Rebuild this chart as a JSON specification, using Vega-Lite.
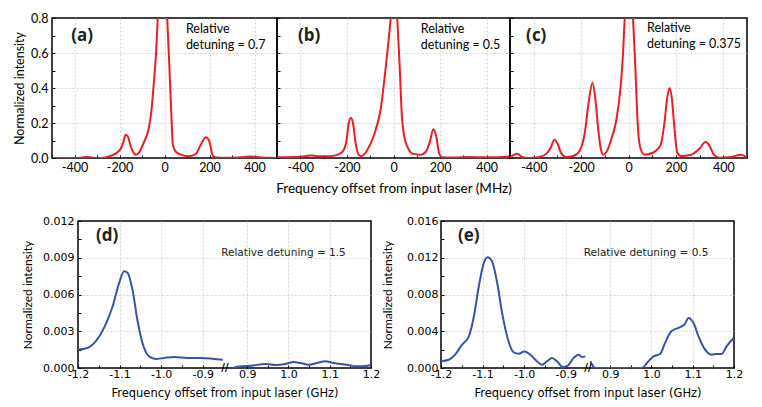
{
  "$schema": "https://vega.github.io/schema/vega-lite/v6.json",
  "padding": {"left": 12, "top": 11, "right": 0, "bottom": 0},
  "datasets": {
    "a": [
      {"f": -500, "v": 0}, {"f": -400, "v": 0}, {"f": -370, "v": 0.002}, {"f": -346, "v": 0.006}, {"f": -320, "v": 0.002},
      {"f": -294, "v": 0}, {"f": -264, "v": 0.003}, {"f": -234, "v": 0.015}, {"f": -212, "v": 0.03}, {"f": -193, "v": 0.057},
      {"f": -182, "v": 0.095}, {"f": -173, "v": 0.133}, {"f": -163, "v": 0.124}, {"f": -152, "v": 0.076}, {"f": -137, "v": 0.029},
      {"f": -127, "v": 0.019}, {"f": -112, "v": 0.034}, {"f": -93, "v": 0.086}, {"f": -70, "v": 0.17}, {"f": -58, "v": 0.27},
      {"f": -48, "v": 0.42}, {"f": -37, "v": 0.61}, {"f": -30, "v": 0.8}, {"f": -20, "v": 0.95}, {"f": -5, "v": 1.0},
      {"f": 5, "v": 0.95}, {"f": 12, "v": 0.8}, {"f": 22, "v": 0.51}, {"f": 31, "v": 0.23}, {"f": 37, "v": 0.076},
      {"f": 49, "v": 0.038}, {"f": 72, "v": 0.019}, {"f": 109, "v": 0.01}, {"f": 139, "v": 0.023}, {"f": 161, "v": 0.076},
      {"f": 184, "v": 0.118}, {"f": 199, "v": 0.095}, {"f": 213, "v": 0.019}, {"f": 225, "v": 0.004}, {"f": 260, "v": 0.001},
      {"f": 303, "v": 0.002}, {"f": 340, "v": 0.004}, {"f": 378, "v": 0.008}, {"f": 422, "v": 0.004}, {"f": 460, "v": 0.001},
      {"f": 500, "v": 0}
    ],
    "b": [
      {"f": -500, "v": 0.004}, {"f": -421, "v": 0.006}, {"f": -378, "v": 0.01}, {"f": -352, "v": 0.015}, {"f": -328, "v": 0.01},
      {"f": -285, "v": 0.01}, {"f": -249, "v": 0.015}, {"f": -220, "v": 0.034}, {"f": -203, "v": 0.09}, {"f": -192, "v": 0.2},
      {"f": -183, "v": 0.23}, {"f": -174, "v": 0.2}, {"f": -163, "v": 0.09}, {"f": -148, "v": 0.015}, {"f": -137, "v": 0.011},
      {"f": -113, "v": 0.044}, {"f": -84, "v": 0.13}, {"f": -55, "v": 0.28}, {"f": -34, "v": 0.51}, {"f": -19, "v": 0.7},
      {"f": -12, "v": 0.8}, {"f": -4, "v": 0.95}, {"f": 2, "v": 1.0}, {"f": 10, "v": 0.95}, {"f": 16, "v": 0.8},
      {"f": 27, "v": 0.51}, {"f": 35, "v": 0.26}, {"f": 45, "v": 0.13}, {"f": 60, "v": 0.063}, {"f": 81, "v": 0.025},
      {"f": 117, "v": 0.019}, {"f": 138, "v": 0.034}, {"f": 156, "v": 0.092}, {"f": 171, "v": 0.165}, {"f": 184, "v": 0.12},
      {"f": 196, "v": 0.025}, {"f": 210, "v": 0.004}, {"f": 260, "v": 0.003}, {"f": 325, "v": 0.006}, {"f": 382, "v": 0.004},
      {"f": 430, "v": 0.004}, {"f": 468, "v": 0.006}, {"f": 500, "v": 0.01}
    ],
    "c": [
      {"f": -500, "v": 0.004}, {"f": -469, "v": 0.025}, {"f": -451, "v": 0.008}, {"f": -423, "v": 0}, {"f": -381, "v": 0.004},
      {"f": -346, "v": 0.025}, {"f": -327, "v": 0.063}, {"f": -313, "v": 0.105}, {"f": -299, "v": 0.082}, {"f": -283, "v": 0.025},
      {"f": -262, "v": 0.006}, {"f": -234, "v": 0.011}, {"f": -205, "v": 0.044}, {"f": -184, "v": 0.148}, {"f": -168, "v": 0.32},
      {"f": -152, "v": 0.43}, {"f": -140, "v": 0.34}, {"f": -128, "v": 0.167}, {"f": -117, "v": 0.053}, {"f": -107, "v": 0.019},
      {"f": -93, "v": 0.034}, {"f": -72, "v": 0.11}, {"f": -51, "v": 0.22}, {"f": -33, "v": 0.41}, {"f": -23, "v": 0.6},
      {"f": -16, "v": 0.8}, {"f": -8, "v": 0.95}, {"f": 2, "v": 1.0}, {"f": 12, "v": 0.95}, {"f": 19, "v": 0.8},
      {"f": 29, "v": 0.51}, {"f": 40, "v": 0.167}, {"f": 51, "v": 0.053}, {"f": 68, "v": 0.019}, {"f": 103, "v": 0.03},
      {"f": 135, "v": 0.072}, {"f": 152, "v": 0.205}, {"f": 163, "v": 0.34}, {"f": 173, "v": 0.4}, {"f": 183, "v": 0.34},
      {"f": 194, "v": 0.167}, {"f": 205, "v": 0.034}, {"f": 222, "v": 0.011}, {"f": 264, "v": 0.019}, {"f": 299, "v": 0.053},
      {"f": 325, "v": 0.091}, {"f": 341, "v": 0.072}, {"f": 360, "v": 0.019}, {"f": 383, "v": 0.002}, {"f": 433, "v": 0.006},
      {"f": 475, "v": 0.019}, {"f": 500, "v": 0.002}
    ],
    "d": [
      {"s": "L", "f": -1.2, "v": 0.0015}, {"s": "L", "f": -1.178, "v": 0.00163}, {"s": "L", "f": -1.157, "v": 0.0022},
      {"s": "L", "f": -1.137, "v": 0.0033}, {"s": "L", "f": -1.117, "v": 0.005}, {"s": "L", "f": -1.101, "v": 0.00695},
      {"s": "L", "f": -1.089, "v": 0.0079}, {"s": "L", "f": -1.081, "v": 0.00777}, {"s": "L", "f": -1.069, "v": 0.0064},
      {"s": "L", "f": -1.057, "v": 0.0039}, {"s": "L", "f": -1.045, "v": 0.00204}, {"s": "L", "f": -1.029, "v": 0.00095},
      {"s": "L", "f": -1.013, "v": 0.00074}, {"s": "L", "f": -0.993, "v": 0.00082}, {"s": "L", "f": -0.969, "v": 0.0009},
      {"s": "L", "f": -0.937, "v": 0.00082}, {"s": "L", "f": -0.904, "v": 0.00082}, {"s": "L", "f": -0.872, "v": 0.00074},
      {"s": "L", "f": -0.852, "v": 0.00068},
      {"s": "R", "f": 0.865, "v": 0}, {"s": "R", "f": 0.885, "v": 0.00014}, {"s": "R", "f": 0.909, "v": 0.00019},
      {"s": "R", "f": 0.945, "v": 0.00033}, {"s": "R", "f": 0.969, "v": 0.00025}, {"s": "R", "f": 0.993, "v": 0.00033},
      {"s": "R", "f": 1.013, "v": 0.00049}, {"s": "R", "f": 1.029, "v": 0.00041}, {"s": "R", "f": 1.049, "v": 0.00027},
      {"s": "R", "f": 1.069, "v": 0.00041}, {"s": "R", "f": 1.089, "v": 0.00055}, {"s": "R", "f": 1.109, "v": 0.00041},
      {"s": "R", "f": 1.141, "v": 0.00027}, {"s": "R", "f": 1.165, "v": 0.00014}, {"s": "R", "f": 1.181, "v": 0.00014},
      {"s": "R", "f": 1.2, "v": 0.00025}
    ],
    "e": [
      {"s": "L", "f": -1.2, "v": 0.00073}, {"s": "L", "f": -1.181, "v": 0.0009}, {"s": "L", "f": -1.166, "v": 0.00145},
      {"s": "L", "f": -1.15, "v": 0.0025}, {"s": "L", "f": -1.133, "v": 0.00345}, {"s": "L", "f": -1.121, "v": 0.0056},
      {"s": "L", "f": -1.109, "v": 0.0089}, {"s": "L", "f": -1.097, "v": 0.01145}, {"s": "L", "f": -1.088, "v": 0.01206},
      {"s": "L", "f": -1.077, "v": 0.0116}, {"s": "L", "f": -1.065, "v": 0.0093}, {"s": "L", "f": -1.053, "v": 0.006},
      {"s": "L", "f": -1.041, "v": 0.00345}, {"s": "L", "f": -1.025, "v": 0.0017}, {"s": "L", "f": -1.013, "v": 0.00156},
      {"s": "L", "f": -1.0, "v": 0.0018}, {"s": "L", "f": -0.985, "v": 0.00145}, {"s": "L", "f": -0.973, "v": 0.0009},
      {"s": "L", "f": -0.957, "v": 0.00036}, {"s": "L", "f": -0.945, "v": 0.00073}, {"s": "L", "f": -0.933, "v": 0.0011},
      {"s": "L", "f": -0.921, "v": 0.00073}, {"s": "L", "f": -0.907, "v": 0.0001}, {"s": "L", "f": -0.895, "v": 0.00025},
      {"s": "L", "f": -0.881, "v": 0.0011}, {"s": "L", "f": -0.869, "v": 0.00145}, {"s": "L", "f": -0.861, "v": 0.0012},
      {"s": "L", "f": -0.853, "v": 0.00127},
      {"s": "R", "f": 0.852, "v": 0.00073}, {"s": "R", "f": 0.864, "v": 0}, {"s": "R", "f": 0.977, "v": 0},
      {"s": "R", "f": 0.989, "v": 0.00055}, {"s": "R", "f": 1.005, "v": 0.00127}, {"s": "R", "f": 1.021, "v": 0.00153},
      {"s": "R", "f": 1.033, "v": 0.00273}, {"s": "R", "f": 1.048, "v": 0.004}, {"s": "R", "f": 1.065, "v": 0.00436},
      {"s": "R", "f": 1.08, "v": 0.00473}, {"s": "R", "f": 1.09, "v": 0.00545}, {"s": "R", "f": 1.102, "v": 0.0049},
      {"s": "R", "f": 1.114, "v": 0.00345}, {"s": "R", "f": 1.13, "v": 0.002}, {"s": "R", "f": 1.146, "v": 0.00145},
      {"s": "R", "f": 1.158, "v": 0.00153}, {"s": "R", "f": 1.17, "v": 0.00153}, {"s": "R", "f": 1.182, "v": 0.00236},
      {"s": "R", "f": 1.197, "v": 0.00316}, {"s": "R", "f": 1.2, "v": 0.0033}
    ]
  },
  "vconcat": [
    {
      "spacing": 0,
      "bounds": "flush",
      "hconcat": [
        {
          "width": 225, "height": 140,
          "layer": [
            {
              "data": {"name": "a"},
              "mark": {"type": "line", "color": "#ed1c24", "strokeWidth": 2, "clip": true, "interpolate": "monotone"},
              "encoding": {
                "x": {"field": "f", "type": "quantitative", "scale": {"domain": [-500, 500], "nice": false},
                  "axis": {"values": [-500, -400, -300, -200, -100, 0, 100, 200, 300, 400, 500], "tickCount": 100, "labelExpr": "round(datum.value) % 200 != 0 || abs(datum.value) == 500 ? '' : datum.value < 0 ? '-' + abs(datum.value) : '' + datum.value", "gridOpacity": {"condition": {"test": "round(datum.value) % 200 != 0 || abs(datum.value) == 500", "value": 0}, "value": 1}, "title": null, "labelFont": "Lato", "labelFontSize": 12.5, "labelPadding": 6.5, "labelFlush": false, "labelOverlap": false}},
                "y": {"field": "v", "type": "quantitative", "scale": {"domain": [0, 0.8], "nice": false},
                  "axis": {"values": [0, 0.1, 0.2, 0.3, 0.4, 0.5, 0.6, 0.7, 0.8], "tickCount": 100, "labelExpr": "round(datum.value * 10) % 2 != 0 ? '' : format(datum.value, '.1f')", "gridOpacity": {"condition": {"test": "round(datum.value * 10) % 2 != 0 || datum.value == 0 || datum.value == 0.8", "value": 0}, "value": 1}, "title": "Normalized intensity", "titleFont": "Lato", "titleFontSize": 12.5, "labelFont": "Lato", "labelFontSize": 12.5, "labelPadding": 7, "titlePadding": 4, "labelOverlap": false}}
              }
            },
            {
              "data": {"values": [{}]},
              "mark": {"type": "text", "text": "(a)", "font": "Open Sans", "fontSize": 17, "fontWeight": "bold", "align": "left", "baseline": "middle", "color": "#222"},
              "encoding": {"x": {"datum": -415}, "y": {"datum": 0.7}}
            },
            {
              "data": {"values": [{}]},
              "mark": {"type": "text", "text": ["Relative", "detuning = 0.7"], "font": "Lato", "fontSize": 12.5, "align": "left", "baseline": "top", "lineHeight": 16, "color": "#000"},
              "encoding": {"x": {"datum": 95}, "y": {"datum": 0.77}}
            }
          ]
        },
        {
          "width": 233, "height": 140,
          "layer": [
            {
              "data": {"name": "b"},
              "mark": {"type": "line", "color": "#ed1c24", "strokeWidth": 2, "clip": true, "interpolate": "monotone"},
              "encoding": {
                "x": {"field": "f", "type": "quantitative", "scale": {"domain": [-500, 500], "nice": false},
                  "axis": {"values": [-500, -400, -300, -200, -100, 0, 100, 200, 300, 400, 500], "tickCount": 100, "labelExpr": "round(datum.value) % 200 != 0 || abs(datum.value) == 500 ? '' : datum.value < 0 ? '-' + abs(datum.value) : '' + datum.value", "gridOpacity": {"condition": {"test": "round(datum.value) % 200 != 0 || abs(datum.value) == 500", "value": 0}, "value": 1}, "title": "Frequency offset from input laser (MHz)", "titleFont": "Lato", "titleFontSize": 13.5, "titlePadding": 7, "labelFont": "Lato", "labelFontSize": 12.5, "labelPadding": 6.5, "labelFlush": false, "labelOverlap": false}},
                "y": {"field": "v", "type": "quantitative", "scale": {"domain": [0, 0.8], "nice": false},
                  "axis": {"values": [0, 0.1, 0.2, 0.3, 0.4, 0.5, 0.6, 0.7, 0.8], "tickCount": 100, "labels": false, "title": null, "gridOpacity": {"condition": {"test": "round(datum.value * 10) % 2 != 0 || datum.value == 0 || datum.value == 0.8", "value": 0}, "value": 1}}}
              }
            },
            {
              "data": {"values": [{}]},
              "mark": {"type": "text", "text": "(b)", "font": "Open Sans", "fontSize": 17, "fontWeight": "bold", "align": "left", "baseline": "middle", "color": "#222"},
              "encoding": {"x": {"datum": -410}, "y": {"datum": 0.7}}
            },
            {
              "data": {"values": [{}]},
              "mark": {"type": "text", "text": ["Relative", "detuning = 0.5"], "font": "Lato", "fontSize": 12.5, "align": "left", "baseline": "top", "lineHeight": 16, "color": "#000"},
              "encoding": {"x": {"datum": 117}, "y": {"datum": 0.77}}
            }
          ]
        },
        {
          "width": 237, "height": 140,
          "layer": [
            {
              "data": {"name": "c"},
              "mark": {"type": "line", "color": "#ed1c24", "strokeWidth": 2, "clip": true, "interpolate": "monotone"},
              "encoding": {
                "x": {"field": "f", "type": "quantitative", "scale": {"domain": [-500, 500], "nice": false},
                  "axis": {"values": [-500, -400, -300, -200, -100, 0, 100, 200, 300, 400, 500], "tickCount": 100, "labelExpr": "round(datum.value) % 200 != 0 || abs(datum.value) == 500 ? '' : datum.value < 0 ? '-' + abs(datum.value) : '' + datum.value", "gridOpacity": {"condition": {"test": "round(datum.value) % 200 != 0 || abs(datum.value) == 500", "value": 0}, "value": 1}, "title": null, "labelFont": "Lato", "labelFontSize": 12.5, "labelPadding": 6.5, "labelFlush": false, "labelOverlap": false}},
                "y": {"field": "v", "type": "quantitative", "scale": {"domain": [0, 0.8], "nice": false},
                  "axis": {"values": [0, 0.1, 0.2, 0.3, 0.4, 0.5, 0.6, 0.7, 0.8], "tickCount": 100, "labels": false, "title": null, "gridOpacity": {"condition": {"test": "round(datum.value * 10) % 2 != 0 || datum.value == 0 || datum.value == 0.8", "value": 0}, "value": 1}}}
              }
            },
            {
              "data": {"values": [{}]},
              "mark": {"type": "text", "text": "(c)", "font": "Open Sans", "fontSize": 17, "fontWeight": "bold", "align": "left", "baseline": "middle", "color": "#222"},
              "encoding": {"x": {"datum": -432}, "y": {"datum": 0.7}}
            },
            {
              "data": {"values": [{}]},
              "mark": {"type": "text", "text": ["Relative", "detuning = 0.375"], "font": "Lato", "fontSize": 12.5, "align": "left", "baseline": "top", "lineHeight": 16, "color": "#000"},
              "encoding": {"x": {"datum": 78}, "y": {"datum": 0.775}}
            }
          ]
        }
      ]
    },
    {
      "spacing": 0,
      "bounds": "flush",
      "hconcat": [
        {
          "width": 26, "height": 147,
          "view": {"stroke": null},
          "data": {"values": [{}]},
          "mark": {"type": "text", "text": ""},
          "encoding": {}
        },
        {
          "spacing": 70,
          "bounds": "flush",
          "hconcat": [
            {
              "width": 293, "height": 147,
              "layer": [
                {
                  "data": {"name": "d"},
                  "mark": {"type": "line", "color": "#3953a4", "strokeWidth": 2, "clip": true, "interpolate": "monotone"},
                  "encoding": {
                    "x": {"field": "f", "type": "quantitative", "scale": {"domain": [-1.2, -0.85, 0.85, 1.2], "range": [0, 145.5, 148.5, 293], "nice": false, "zero": false},
                      "axis": {"values": [-1.2, -1.15, -1.1, -1.05, -1.0, -0.95, -0.9, 0.9, 0.95, 1.0, 1.05, 1.1, 1.15, 1.2], "tickCount": 100, "labelExpr": "round(abs(datum.value) * 100) % 10 != 0 ? '' : datum.value < 0 ? '-' + format(abs(datum.value), '.1f') : format(datum.value, '.1f')", "gridOpacity": {"condition": {"test": "round(abs(datum.value) * 100) % 10 != 0 || abs(datum.value) == 1.2", "value": 0}, "value": 1}, "title": "Frequency offset from input laser (GHz)", "titleFont": "DejaVu Sans", "titleFontSize": 11.5, "titlePadding": 8, "labelFont": "DejaVu Sans", "labelFontSize": 11, "labelPadding": 3.5, "labelFlush": false, "labelOverlap": false}},
                    "y": {"field": "v", "type": "quantitative", "scale": {"domain": [0, 0.012], "nice": false},
                      "axis": {"values": [0, 0.0015, 0.003, 0.0045, 0.006, 0.0075, 0.009, 0.0105, 0.012], "tickCount": 100, "labelExpr": "round(datum.value * 2000) % 2 != 0 ? '' : format(datum.value, '.3f')", "gridOpacity": {"condition": {"test": "round(datum.value * 2000) % 2 != 0 || datum.value == 0 || datum.value == 0.012", "value": 0}, "value": 1}, "title": "Normalized intensity", "titleFont": "Lato", "titleFontSize": 12, "titlePadding": 8.5, "labelFont": "DejaVu Sans", "labelFontSize": 11, "labelPadding": 7, "labelOverlap": false}},
                    "detail": {"field": "s", "type": "nominal"}
                  }
                },
                {
                  "data": {"values": [{}]},
                  "mark": {"type": "text", "text": "(d)", "font": "Open Sans", "fontSize": 17, "fontWeight": "bold", "align": "left", "baseline": "middle", "color": "#222"},
                  "encoding": {"x": {"datum": -1.157}, "y": {"datum": 0.0108}}
                },
                {
                  "data": {"values": [{}]},
                  "mark": {"type": "text", "text": "Relative detuning = 1.5", "font": "DejaVu Sans", "fontSize": 10.5, "align": "center", "baseline": "middle", "color": "#222"},
                  "encoding": {"x": {"datum": 0.988}, "y": {"datum": 0.0094}}
                },
                {
                  "data": {"values": [{}]},
                  "mark": {"type": "text", "text": "//", "font": "DejaVu Sans", "fontSize": 10, "fontWeight": "bold", "align": "center", "baseline": "middle", "color": "#000"},
                  "encoding": {"x": {"datum": 0}, "y": {"datum": 0}}
                }
              ]
            },
            {
              "width": 293, "height": 147,
              "layer": [
                {
                  "data": {"name": "e"},
                  "mark": {"type": "line", "color": "#3953a4", "strokeWidth": 2, "clip": true, "interpolate": "monotone"},
                  "encoding": {
                    "x": {"field": "f", "type": "quantitative", "scale": {"domain": [-1.2, -0.85, 0.85, 1.2], "range": [0, 145.5, 148.5, 293], "nice": false, "zero": false},
                      "axis": {"values": [-1.2, -1.15, -1.1, -1.05, -1.0, -0.95, -0.9, 0.9, 0.95, 1.0, 1.05, 1.1, 1.15, 1.2], "tickCount": 100, "labelExpr": "round(abs(datum.value) * 100) % 10 != 0 ? '' : datum.value < 0 ? '-' + format(abs(datum.value), '.1f') : format(datum.value, '.1f')", "gridOpacity": {"condition": {"test": "round(abs(datum.value) * 100) % 10 != 0 || abs(datum.value) == 1.2", "value": 0}, "value": 1}, "title": "Frequency offset from input laser (GHz)", "titleFont": "DejaVu Sans", "titleFontSize": 11.5, "titlePadding": 8, "labelFont": "DejaVu Sans", "labelFontSize": 11, "labelPadding": 3.5, "labelFlush": false, "labelOverlap": false}},
                    "y": {"field": "v", "type": "quantitative", "scale": {"domain": [0, 0.016], "nice": false},
                      "axis": {"values": [0, 0.002, 0.004, 0.006, 0.008, 0.01, 0.012, 0.014, 0.016], "tickCount": 100, "labelExpr": "round(datum.value * 1000) % 4 != 0 ? '' : format(datum.value, '.3f')", "gridOpacity": {"condition": {"test": "round(datum.value * 1000) % 4 != 0 || datum.value == 0 || datum.value == 0.016", "value": 0}, "value": 1}, "title": "Normalized intensity", "titleFont": "Lato", "titleFontSize": 12, "titlePadding": 12, "labelFont": "DejaVu Sans", "labelFontSize": 11, "labelPadding": 6, "labelOverlap": false}},
                    "detail": {"field": "s", "type": "nominal"}
                  }
                },
                {
                  "data": {"values": [{}]},
                  "mark": {"type": "text", "text": "(e)", "font": "Open Sans", "fontSize": 17, "fontWeight": "bold", "align": "left", "baseline": "middle", "color": "#222"},
                  "encoding": {"x": {"datum": -1.159}, "y": {"datum": 0.0144}}
                },
                {
                  "data": {"values": [{}]},
                  "mark": {"type": "text", "text": "Relative detuning = 0.5", "font": "DejaVu Sans", "fontSize": 10.5, "align": "center", "baseline": "middle", "color": "#222"},
                  "encoding": {"x": {"datum": 0.987}, "y": {"datum": 0.01253}}
                },
                {
                  "data": {"values": [{}]},
                  "mark": {"type": "text", "text": "//", "font": "DejaVu Sans", "fontSize": 10, "fontWeight": "bold", "align": "center", "baseline": "middle", "color": "#000"},
                  "encoding": {"x": {"datum": 0}, "y": {"datum": 0}}
                }
              ]
            }
          ]
        }
      ]
    }
  ],
  "spacing": 18,
  "config": {
    "view": {"stroke": "#000", "strokeWidth": 1.5},
    "axis": {"grid": true, "gridColor": "#c8c8c8", "gridDash": [2, 2], "gridWidth": 0.8, "domain": false, "ticks": true, "tickSize": -3, "tickColor": "#000", "tickWidth": 1, "labelColor": "#000", "titleColor": "#000", "titleFontWeight": "normal"}
  }
}
